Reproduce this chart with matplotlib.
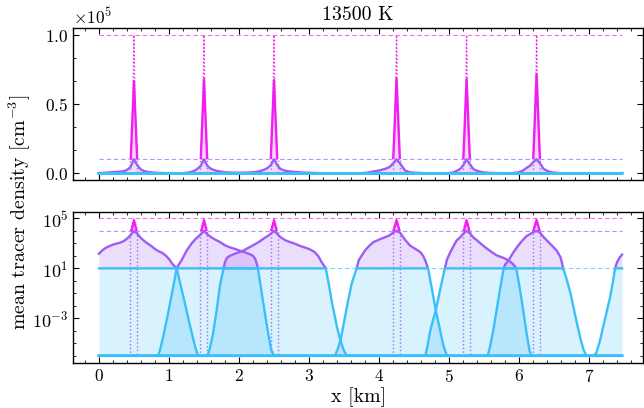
import numpy as np
import matplotlib
matplotlib.use('Agg')
import matplotlib.pyplot as plt
from matplotlib.transforms import Bbox, TransformedBbox
from matplotlib.ticker import (MultipleLocator, FixedLocator, LogFormatterMathtext,
                               NullFormatter, ScalarFormatter)

plt.rcParams['font.family'] = 'serif'
plt.rcParams['font.serif'] = ['cmr10', 'DejaVu Serif']
plt.rcParams['mathtext.fontset'] = 'cm'
plt.rcParams['axes.formatter.use_mathtext'] = True
plt.rcParams['axes.unicode_minus'] = False

# ---------------- data ----------------
title = "13500 K"
domain = [0.0, 7.47]
thresholds = [1e5, 1e4, 1e1]          # dashed reference levels
floor_logn = -6.0
centers = [0.5, 1.5, 2.5, 4.25, 5.25, 6.25]

# mean density of each cloud tracer, log10(n / cm^-3)
c1_x = [0.00, 0.05, 0.10, 0.15, 0.20, 0.25, 0.30, 0.35, 0.40, 0.45, 0.50, 0.55, 0.60, 0.65,
        0.70, 0.75, 0.80, 0.85, 0.90, 0.95, 1.00, 1.05, 1.11, 1.16, 1.22, 1.28, 1.34, 1.38,
        1.41, 1.44, 7.05, 7.10, 7.15, 7.20, 7.25, 7.30, 7.34, 7.37, 7.40, 7.44, 7.47]
c1_logn = [2.17, 2.45, 2.65, 2.78, 2.90, 2.98, 3.05, 3.17, 3.37, 3.65, 4.824, 3.75, 3.42, 3.18,
           2.97, 2.78, 2.55, 2.38, 2.25, 2.05, 1.75, 1.35, 1.0, -0.2, -1.6, -3.1, -4.5, -5.4,
           -5.9, -6.0, -6.0, -5.8, -4.9, -3.7, -2.5, -1.3, -0.1, 1.0, 1.5, 1.9, 2.1]

c2_x = [0.00, 0.84, 0.87, 0.92, 0.98, 1.04, 1.08, 1.11, 1.14, 1.18, 1.25, 1.32, 1.38, 1.45,
        1.50, 1.55, 1.60, 1.66, 1.73, 1.80, 1.87, 1.94, 2.04, 2.10, 2.16, 2.20, 2.23, 2.25,
        2.27, 2.32, 2.37, 2.42, 2.46, 2.50, 7.47]
c2_logn = [-6.0, -6.0, -5.6, -4.4, -2.8, -1.1, 0.1, 1.0, 1.3, 1.64, 2.4, 2.97, 3.35, 3.7,
           4.833, 3.72, 3.5, 3.3, 3.1, 2.84, 2.68, 2.56, 2.36, 2.25, 2.12, 2.0, 1.78, 1.45,
           1.0, -0.8, -2.6, -4.3, -5.5, -6.0, -6.0]

c3_x = [0.00, 1.55, 1.58, 1.63, 1.68, 1.73, 1.78, 1.80, 1.83, 1.87, 1.92, 1.98, 2.04, 2.12,
        2.20, 2.28, 2.35, 2.40, 2.45, 2.50, 2.55, 2.59, 2.66, 2.73, 2.80, 2.87, 2.95, 3.02,
        3.08, 3.13, 3.18, 3.24, 3.28, 3.33, 3.40, 3.45, 3.50, 3.54, 7.47]
c3_logn = [-6.0, -6.0, -5.5, -4.2, -2.4, -0.3, 1.0, 1.5, 1.85, 2.0, 2.12, 2.25, 2.36, 2.6,
           2.84, 3.1, 3.37, 3.55, 3.75, 4.829, 3.75, 3.5, 3.25, 3.1, 2.97, 2.8, 2.65, 2.5,
           2.3, 2.0, 1.5, 1.0, -0.2, -1.8, -3.7, -4.8, -5.6, -6.0, -6.0]

c4_x = [0.00, 3.37, 3.42, 3.45, 3.50, 3.54, 3.61, 3.68, 3.71, 3.75, 3.80, 3.86, 3.92, 4.00,
        4.09, 4.15, 4.20, 4.25, 4.30, 4.37, 4.44, 4.52, 4.59, 4.63, 4.66, 4.70, 4.75, 4.81,
        4.87, 4.92, 4.97, 7.47]
c4_logn = [-6.0, -6.0, -5.3, -4.76, -3.3, -2.1, -0.2, 1.0, 1.64, 2.0, 2.44, 2.8, 3.1, 3.3,
           3.5, 3.65, 3.85, 4.836, 3.85, 3.3, 2.84, 2.55, 2.3, 2.0, 1.64, 1.0, -0.5, -2.36,
           -3.9, -5.2, -6.0, -6.0]

c5_x = [0.00, 4.66, 4.69, 4.73, 4.81, 4.87, 4.94, 4.97, 5.01, 5.06, 5.11, 5.16, 5.20, 5.25,
        5.30, 5.35, 5.40, 5.47, 5.54, 5.61, 5.68, 5.77, 5.85, 5.92, 5.96, 6.01, 6.06, 6.11,
        6.15, 6.18, 7.47]
c5_logn = [-6.0, -6.0, -5.3, -4.0, -2.36, -0.76, 1.0, 1.7, 2.2, 2.75, 3.24, 3.5, 3.75, 4.833,
           3.8, 3.45, 3.24, 2.9, 2.58, 2.3, 2.04, 1.85, 1.64, 1.3, 1.0, -0.6, -2.4, -4.3,
           -5.6, -6.0, -6.0]

c6_x = [0.00, 5.55, 5.58, 5.63, 5.68, 5.73, 5.78, 5.80, 5.85, 5.92, 5.99, 6.05, 6.11, 6.16,
        6.20, 6.25, 6.30, 6.35, 6.42, 6.49, 6.54, 6.59, 6.61, 6.63, 6.67, 6.73, 6.78, 6.83,
        6.88, 6.92, 6.96, 7.47]
c6_logn = [-6.0, -6.0, -5.4, -4.0, -2.3, -0.6, 1.0, 1.3, 1.64, 2.3, 2.84, 3.25, 3.6, 3.75,
           3.9, 4.856, 3.85, 3.5, 3.1, 2.7, 2.4, 1.9, 1.5, 1.0, 0.3, -0.9, -2.2, -3.5,
           -4.7, -5.5, -6.0, -6.0]

curves_x = [c1_x, c2_x, c3_x, c4_x, c5_x, c6_x]
curves_logn = [c1_logn, c2_logn, c3_logn, c4_logn, c5_logn, c6_logn]

# initial cloud profile (offset from cloud centre, log10 n)
init_dx = [-0.05, -0.05, -0.04, -0.03, -0.02, -0.01, 0.0, 0.01, 0.02, 0.03, 0.04, 0.05, 0.05]
init_logn = [-6.0, 4.0, 4.2, 4.4, 4.6, 4.8, 5.0, 4.8, 4.6, 4.4, 4.2, 4.0, -6.0]

# ---------------- style ----------------
C_MAG = '#f01ef0'
C_PUR = '#9d5cf5'
C_BLU = '#3cbefa'
D_MAG = '#f070f0'
D_PUR = '#b894fb'
D_BLU = '#7fd2fb'
XLIM = (-0.37, 7.77)
LW = 1.7
FS_TICK = 12.5
FS_LAB = 14.3

fig = plt.figure(figsize=(6.44, 4.08), dpi=100)
ax1 = fig.add_axes([0.1134, 0.5588, 0.8851, 0.3718])
ax2 = fig.add_axes([0.1134, 0.1110, 0.8851, 0.3700])

ax2.set_yscale('log')
ylims = {ax1: (-0.049e5, 1.049e5), ax2: (10 ** -6.55, 10 ** 5.53)}


def band(ax, lo, hi):
    return TransformedBbox(Bbox([[XLIM[0], lo], [XLIM[1], hi]]), ax.transData)


floor = 10.0 ** floor_logn
for ax in (ax1, ax2):
    ax.set_xlim(*XLIM)
    ax.set_ylim(*ylims[ax])
    top = ylims[ax][1]
    b_pur = band(ax, thresholds[2], top)
    b_mag = band(ax, thresholds[1], top)

    # fills
    for cx, cl in zip(curves_x, curves_logn):
        x = np.array(cx)
        n = 10.0 ** np.array(cl)
        ax.fill_between(x, floor, np.minimum(n, thresholds[2]), color=C_BLU, alpha=0.2, lw=0)
        f = ax.fill_between(x, floor, np.minimum(n, thresholds[1]), color=C_PUR, alpha=0.2, lw=0)
        f.set_clip_box(b_pur)
        f = ax.fill_between(x, floor, n, color=C_MAG, alpha=0.2, lw=0)
        f.set_clip_box(b_mag)

    # dashed reference levels
    for lev, col in zip(thresholds, [D_MAG, D_PUR, D_BLU]):
        ax.plot(domain, [lev, lev], color=col, lw=0.8, ls=(0, (4, 2.5)))

    # initial profiles (dotted)
    for c in centers:
        x = c + np.array(init_dx)
        n = 10.0 ** np.array(init_logn)
        ax.plot(x, np.minimum(n, thresholds[1]), color=C_PUR, lw=1.0, ls=':', alpha=0.9)
        l, = ax.plot(x, n, color=C_MAG, lw=1.0, ls=':')
        l.set_clip_box(b_mag)

    # current mean profiles (solid)
    for cx, cl in zip(curves_x, curves_logn):
        x = np.array(cx)
        n = 10.0 ** np.array(cl)
        l, = ax.plot(x, np.minimum(n, thresholds[1]), color=C_PUR, lw=LW, solid_joinstyle='round')
        l.set_clip_box(b_pur)
        l, = ax.plot(x, n, color=C_MAG, lw=LW, solid_joinstyle='round')
        l.set_clip_box(b_mag)
    for cx, cl in zip(curves_x, curves_logn):
        x = np.array(cx)
        n = 10.0 ** np.array(cl)
        ax.plot(x, np.minimum(n, thresholds[2]), color=C_BLU, lw=LW, solid_joinstyle='round')

    ax.xaxis.set_major_locator(MultipleLocator(1))
    ax.xaxis.set_minor_locator(MultipleLocator(0.2))
    ax.tick_params(which='both', direction='in', top=True, right=True, labelsize=FS_TICK)
    ax.tick_params(which='major', length=4.5, width=0.8)
    ax.tick_params(which='minor', length=2.5, width=0.6)
    for s in ax.spines.values():
        s.set_linewidth(1.0)

ax1.tick_params(labelbottom=False)
ax1.yaxis.set_major_locator(MultipleLocator(0.5e5))
ax1.yaxis.set_minor_locator(MultipleLocator(0.5e5 / 3))
sf = ScalarFormatter(useMathText=True)
sf.set_powerlimits((0, 0))
ax1.yaxis.set_major_formatter(sf)
ax1.yaxis.get_offset_text().set_fontsize(FS_TICK)

ax2.yaxis.set_major_locator(FixedLocator([1e-3, 1e1, 1e5]))
ax2.yaxis.set_major_formatter(LogFormatterMathtext())
ax2.yaxis.set_minor_locator(FixedLocator([10.0 ** k for k in range(-6, 6)]))
ax2.yaxis.set_minor_formatter(NullFormatter())
ax2.tick_params(axis='y', labelsize=13)

fig.text(0.556, 0.963, title, ha='center', va='center', fontsize=FS_LAB)
fig.text(0.556, 0.027, 'x [km]', ha='center', va='center', fontsize=FS_LAB)
fig.text(0.031, 0.48, 'mean tracer density [cm$^{-3}$]', ha='center', va='center',
         rotation=90, fontsize=FS_LAB)

fig.savefig('out.png', dpi=100)
